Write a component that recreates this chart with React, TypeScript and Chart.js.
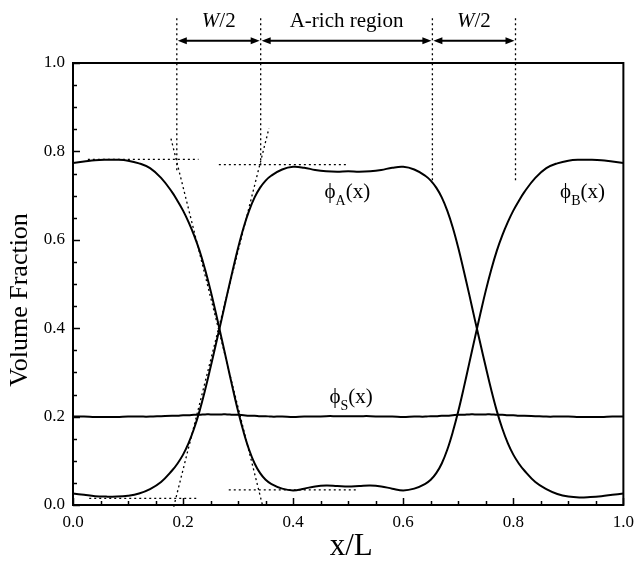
import React, { useEffect, useRef } from "react";
import { Chart, registerables } from "chart.js";

Chart.register(...registerables);

// ---- data ----
const xs = [
  0, 0.02, 0.04, 0.06, 0.08, 0.10, 0.12, 0.14, 0.16, 0.18, 0.19, 0.20, 0.21, 0.22, 0.23, 0.24, 0.25,
  0.26, 0.27, 0.28, 0.29, 0.30, 0.31, 0.32, 0.33, 0.34, 0.35, 0.36, 0.38, 0.40, 0.42, 0.44, 0.46, 0.48,
  0.50, 0.52, 0.54, 0.56, 0.58, 0.60, 0.62, 0.64, 0.65, 0.66, 0.67, 0.68, 0.69, 0.70, 0.71, 0.72, 0.73,
  0.74, 0.75, 0.76, 0.77, 0.78, 0.79, 0.80, 0.81, 0.82, 0.84, 0.86, 0.88, 0.90, 0.92, 0.94, 0.96, 0.98, 1.00,
];

const phiA = [
  0.026, 0.023, 0.020, 0.019, 0.019, 0.021, 0.026, 0.036, 0.052, 0.078, 0.094, 0.114, 0.140, 0.173, 0.213, 0.260, 0.312,
  0.366, 0.420, 0.476, 0.530, 0.582, 0.628, 0.666, 0.696, 0.718, 0.734, 0.745, 0.759, 0.765, 0.763, 0.758, 0.755, 0.754,
  0.755, 0.754, 0.755, 0.758, 0.763, 0.765, 0.759, 0.745, 0.734, 0.718, 0.696, 0.666, 0.628, 0.582, 0.530, 0.476, 0.420,
  0.366, 0.312, 0.260, 0.213, 0.173, 0.140, 0.114, 0.094, 0.078, 0.052, 0.036, 0.025, 0.019, 0.017, 0.018, 0.020, 0.023, 0.026,
];

const phiB = [
  0.774, 0.777, 0.780, 0.781, 0.781, 0.779, 0.773, 0.762, 0.740, 0.708, 0.688, 0.666, 0.640, 0.610, 0.575, 0.533, 0.485,
  0.432, 0.377, 0.321, 0.265, 0.212, 0.165, 0.125, 0.094, 0.072, 0.057, 0.048, 0.037, 0.033, 0.037, 0.042, 0.044, 0.043,
  0.042, 0.043, 0.044, 0.042, 0.037, 0.033, 0.037, 0.048, 0.057, 0.072, 0.094, 0.125, 0.165, 0.212, 0.265, 0.321, 0.377,
  0.432, 0.485, 0.533, 0.575, 0.610, 0.640, 0.666, 0.688, 0.708, 0.740, 0.762, 0.773, 0.779, 0.781, 0.781, 0.780, 0.777, 0.774,
];

const phiS = [
  0.200, 0.200, 0.199, 0.199, 0.199, 0.200, 0.200, 0.200, 0.201, 0.202, 0.202, 0.203, 0.203, 0.204, 0.204, 0.205, 0.205,
  0.205, 0.205, 0.205, 0.204, 0.204, 0.203, 0.202, 0.202, 0.201, 0.201, 0.200, 0.200, 0.199, 0.200, 0.200, 0.201, 0.201,
  0.201, 0.201, 0.201, 0.200, 0.200, 0.199, 0.200, 0.200, 0.201, 0.201, 0.202, 0.202, 0.203, 0.204, 0.204, 0.205, 0.205,
  0.205, 0.205, 0.205, 0.204, 0.204, 0.203, 0.203, 0.202, 0.202, 0.201, 0.200, 0.200, 0.200, 0.199, 0.199, 0.199, 0.200, 0.200,
];

const xTickLabels = ["0.0", "0.2", "0.4", "0.6", "0.8", "1.0"];
const yTickLabels = ["0.0", "0.2", "0.4", "0.6", "0.8", "1.0"];
const minorStep = 0.05;

// construction lines (data coordinates)
const guideX = [0.1886, 0.341, 0.653, 0.804];
const guideTop = 1.101;
const guideBottom = [0.755, 0.765, 0.734, 0.731];
const tangentB = [{ x: 0.178, y: 0.829 }, { x: 0.345, y: -0.004 }];
const tangentA = [{ x: 0.183, y: -0.004 }, { x: 0.356, y: 0.852 }];
const levelStart = [0.027, 0.265, 0.0295, 0.283];
const levelEnd = [0.228, 0.4985, 0.226, 0.515];
const levelValue = [0.782, 0.770, 0.015, 0.034];

const arrowY = 1.0505;
const spanStart = [0.1886, 0.341, 0.653];
const spanEnd = [0.341, 0.653, 0.804];
const spanText = ["W/2", "A-rich region", "W/2"];
const spanLabelY = 1.082;

const curveSubs = ["A", "B", "S"];
const curveLabelX = [0.457, 0.885, 0.466];
const curveLabelY = [0.695, 0.695, 0.23];

const SERIF = '"Liberation Serif", "Times New Roman", serif';
const PHI = "\u03D5";

function pts(xv: number[], yv: number[]) {
  return xv.map((x, i) => ({ x, y: yv[i] }));
}

const curveStyle = {
  borderColor: "#000",
  borderWidth: 2,
  pointRadius: 0,
  fill: false,
  tension: 0.4,
};

const dotStyle = {
  borderColor: "#000",
  borderWidth: 1.3,
  borderDash: [2, 3],
  pointRadius: 0,
  fill: false,
  tension: 0,
  clip: false as any,
};

const decor = {
  id: "decor",
  afterDatasetsDraw(chart: any) {
    const ctx = chart.ctx as CanvasRenderingContext2D;
    const xS = chart.scales.x;
    const yS = chart.scales.y;
    const { left, right, top, bottom } = chart.chartArea;
    ctx.save();
    ctx.strokeStyle = "#000";
    ctx.fillStyle = "#000";

    // ticks (inward)
    ctx.lineWidth = 1.5;
    const n = Math.round(1 / minorStep);
    for (let i = 0; i <= n; i++) {
      const v = i * minorStep;
      const major = i % 4 === 0;
      const len = major ? 7 : 4;
      const px = Math.round(xS.getPixelForValue(v)) + 0.5;
      ctx.beginPath();
      ctx.moveTo(px, bottom);
      ctx.lineTo(px, bottom - len);
      ctx.stroke();
      const py = Math.round(yS.getPixelForValue(v)) + 0.5;
      ctx.beginPath();
      ctx.moveTo(left, py);
      ctx.lineTo(left + len, py);
      ctx.stroke();
    }

    // frame
    ctx.lineWidth = 2;
    ctx.strokeRect(left, top, right - left, bottom - top);

    // arrows
    const ay = yS.getPixelForValue(arrowY);
    const head = (x: number, dir: number) => {
      ctx.beginPath();
      ctx.moveTo(x, ay);
      ctx.lineTo(x - dir * 9, ay - 3.5);
      ctx.lineTo(x - dir * 9, ay + 3.5);
      ctx.closePath();
      ctx.fill();
    };
    ctx.lineWidth = 2;
    for (let i = 0; i < spanStart.length; i++) {
      const x1 = xS.getPixelForValue(spanStart[i]) + 1;
      const x2 = xS.getPixelForValue(spanEnd[i]) - 1;
      ctx.beginPath();
      ctx.moveTo(x1 + 4, ay);
      ctx.lineTo(x2 - 4, ay);
      ctx.stroke();
      head(x1, -1);
      head(x2, 1);
    }

    // span labels
    const ly = yS.getPixelForValue(spanLabelY);
    ctx.textBaseline = "alphabetic";
    ctx.textAlign = "left";
    for (let i = 0; i < spanText.length; i++) {
      const cx = xS.getPixelForValue((spanStart[i] + spanEnd[i]) / 2);
      const t = spanText[i];
      if (t.startsWith("W")) {
        ctx.font = `italic 21px ${SERIF}`;
        const w1 = ctx.measureText("W").width;
        ctx.font = `21px ${SERIF}`;
        const w2 = ctx.measureText("/2").width;
        const x0 = cx - (w1 + w2) / 2;
        ctx.font = `italic 21px ${SERIF}`;
        ctx.fillText("W", x0, ly);
        ctx.font = `21px ${SERIF}`;
        ctx.fillText("/2", x0 + w1, ly);
      } else {
        ctx.font = `21px ${SERIF}`;
        const w = ctx.measureText(t).width;
        ctx.fillText(t, cx - w / 2, ly);
      }
    }

    // curve labels
    for (let i = 0; i < curveSubs.length; i++) {
      let x = xS.getPixelForValue(curveLabelX[i]);
      const y = yS.getPixelForValue(curveLabelY[i]);
      ctx.font = `21px ${SERIF}`;
      ctx.fillText(PHI, x, y);
      x += ctx.measureText(PHI).width;
      ctx.font = `14px ${SERIF}`;
      ctx.fillText(curveSubs[i], x, y + 7);
      x += ctx.measureText(curveSubs[i]).width;
      ctx.font = `21px ${SERIF}`;
      ctx.fillText("(x)", x, y);
    }

    // axis titles
    ctx.font = `31px ${SERIF}`;
    ctx.textAlign = "center";
    ctx.textBaseline = "middle";
    ctx.fillText("x/L", (left + right) / 2 + 3, 547);

    ctx.font = `26px ${SERIF}`;
    ctx.translate(20, yS.getPixelForValue(0.464));
    ctx.rotate(-Math.PI / 2);
    ctx.fillText("Volume Fraction", 0, 0);
    ctx.restore();
  },
};

export default function App() {
  const ref = useRef<HTMLCanvasElement>(null);
  useEffect(() => {
    const datasets: any[] = [
      { ...curveStyle, label: "phiA", data: pts(xs, phiA) },
      { ...curveStyle, label: "phiB", data: pts(xs, phiB) },
      { ...curveStyle, label: "phiS", data: pts(xs, phiS) },
    ];
    guideX.forEach((gx, i) => {
      datasets.push({ ...dotStyle, data: [{ x: gx, y: guideTop }, { x: gx, y: guideBottom[i] }] });
    });
    datasets.push({ ...dotStyle, data: tangentB });
    datasets.push({ ...dotStyle, data: tangentA });
    levelValue.forEach((v, i) => {
      datasets.push({ ...dotStyle, data: [{ x: levelStart[i], y: v }, { x: levelEnd[i], y: v }] });
    });

    const chart = new Chart(ref.current as HTMLCanvasElement, {
      type: "line",
      data: { datasets },
      options: {
        responsive: false,
        animation: false,
        devicePixelRatio: 1,
        events: [],
        layout: { padding: { top: 63, right: 15, left: 0, bottom: 0 } },
        plugins: { legend: { display: false }, tooltip: { enabled: false } },
        scales: {
          x: {
            type: "linear",
            min: 0,
            max: 1,
            grid: { display: false, drawTicks: false },
            border: { display: false },
            ticks: {
              stepSize: 0.2,
              padding: 7,
              color: "#000",
              font: { family: SERIF, size: 17 },
              maxRotation: 0,
              callback: (_v: any, i: number) => xTickLabels[i],
            },
            afterFit: (s: any) => {
              s.height = 61;
            },
          },
          y: {
            type: "linear",
            min: 0,
            max: 1,
            grid: { display: false, drawTicks: false },
            border: { display: false },
            ticks: {
              stepSize: 0.2,
              padding: 8,
              color: "#000",
              font: { family: SERIF, size: 17 },
              callback: (_v: any, i: number) => yTickLabels[i],
            },
            afterFit: (s: any) => {
              s.width = 73;
            },
          },
        },
      },
      plugins: [decor],
    } as any);
    return () => chart.destroy();
  }, []);
  return (
    <div style={{ position: "absolute", left: 0, top: 0, width: 641, height: 566, background: "#fff" }}>
      <canvas ref={ref} width={641} height={566} style={{ display: "block", width: 641, height: 566 }} />
    </div>
  );
}
